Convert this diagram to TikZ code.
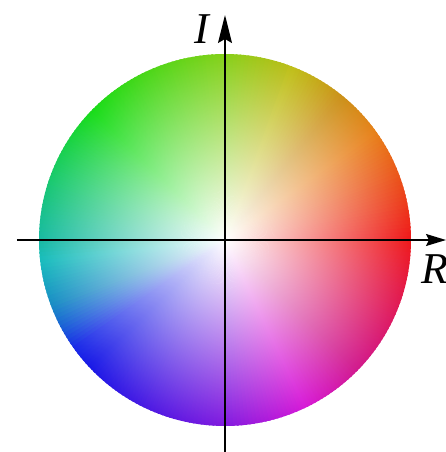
\documentclass[tikz,border=0pt]{standalone}
\usepackage{fontspec}
\setmainfont{Liberation Serif}
\usetikzlibrary{arrows.meta,fadings}
\tikzfading[name=whitecore, inner color=transparent!0, outer color=transparent!100]
\tikzset{
  axis/.style={line width=0.7pt, black},
  axislabel/.style={font=\fontsize{22}{26}\selectfont\itshape, inner sep=0pt}
}
\begin{document}
\begin{tikzpicture}[x=0.5pt,y=0.5pt]
  \useasboundingbox (0,0) rectangle (446,452);
  \coordinate (o) at (225,212);
  % hue wedges: angles / hues / brightness
  \foreach \sa/\ea/\sh/\eh/\sb/\eb in {0/35/0/30/0.93/0.9, 35/50/30/40/0.9/0.78, 50/70/40/62/0.78/0.72, 70/90/62/85/0.72/0.8,
      90/135/85/120/0.8/0.85, 135/180/120/172/0.85/0.7, 180/200/172/200/0.7/0.75, 200/215/200/235/0.75/0.9,
      215/270/235/272/0.9/0.86, 270/315/272/322/0.86/0.8, 315/360/322/360/0.8/0.93}{
    \pgfmathtruncatemacro\n{(\ea-\sa)/1.25}
    \pgfmathtruncatemacro\m{\n-1}
    \foreach \t in {0,...,\m}{
      \pgfmathsetmacro\a{\sa+\t*(\ea-\sa)/\n}
      \pgfmathsetmacro\da{(\ea-\sa)/\n+0.5}
      \pgfmathsetmacro\h{\sh+\t*(\eh-\sh)/\n}
      \pgfmathsetmacro\b{\sb+\t*(\eb-\sb)/\n}
      \definecolor{wedgecol}{Hsb}{\h,1,\b}
      \fill[wedgecol] (o) -- ++(\a:186) arc[start angle=\a, delta angle=\da, radius=186] -- cycle;
    }
  }
  \begin{scope}
    \clip (o) circle[radius=186];
    \fill[white, path fading=whitecore] (o) circle[radius=205];
  \end{scope}
  % axes
  \coordinate (xs) at (17,212);
  \coordinate (xe) at (446,212);
  \coordinate (ys) at (225,0);
  \coordinate (ye) at (225,437);
  \draw[axis, -{Stealth[length=10pt,width=6pt,inset=1.5pt]}] (xs) -- (xe);
  \draw[axis, -{Stealth[length=14pt,width=7pt,inset=2pt]}] (ys) -- (ye);
  \node[axislabel] (ilabel) at (202,423) {I};
  \node[axislabel] (rlabel) at (435,183) {R};
\end{tikzpicture}
\end{document}
